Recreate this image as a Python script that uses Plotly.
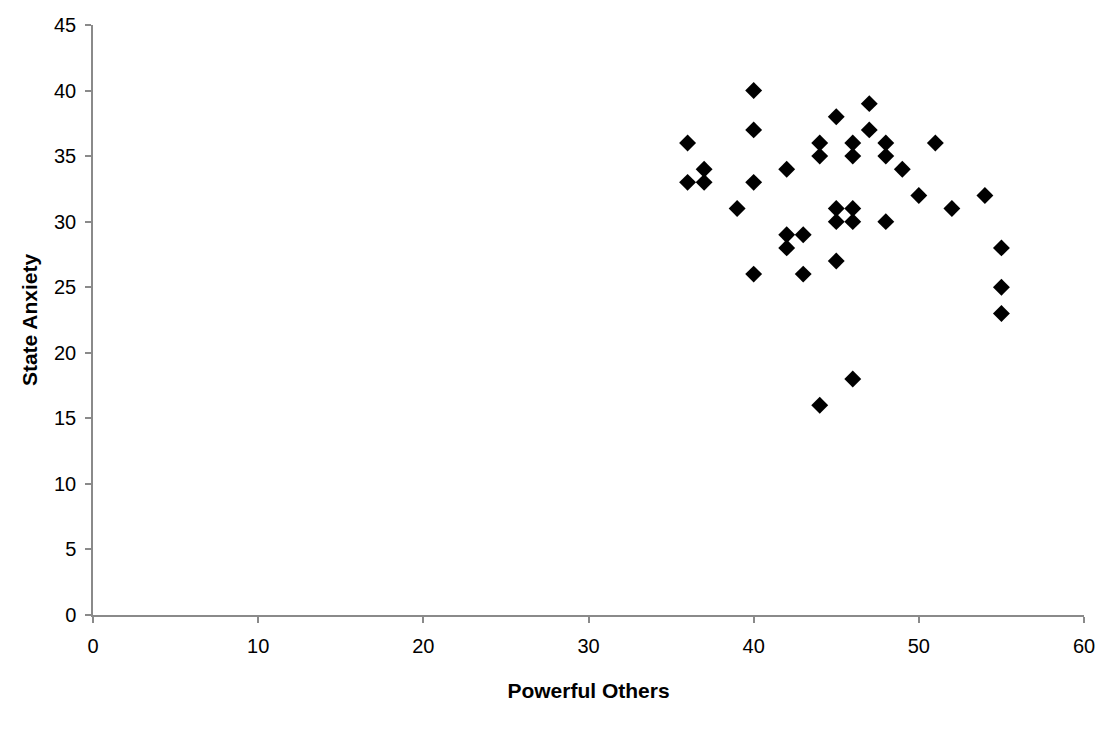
import plotly.graph_objects as go

powerful_others = [36, 36, 37, 37, 39, 40, 40, 40, 40, 42, 42, 42, 43, 43,
                   44, 44, 44, 45, 45, 45, 45, 46, 46, 46, 46, 46, 47, 47,
                   48, 48, 48, 49, 50, 51, 52, 54, 55, 55, 55]
state_anxiety = [36, 33, 34, 33, 31, 40, 37, 33, 26, 34, 29, 28, 29, 26,
                 36, 35, 16, 38, 31, 30, 27, 36, 35, 31, 30, 18, 39, 37,
                 36, 35, 30, 34, 32, 36, 31, 32, 28, 25, 23]

x_ticks = [0, 10, 20, 30, 40, 50, 60]
y_ticks = [0, 5, 10, 15, 20, 25, 30, 35, 40, 45]

FONT = "Liberation Sans, Arial"

fig = go.Figure()
fig.add_trace(go.Scatter(
    x=powerful_others, y=state_anxiety, mode="markers",
    marker=dict(symbol="diamond", size=13, color="black", line=dict(width=0)),
    showlegend=False, cliponaxis=False,
))

axis_common = dict(
    showgrid=False, zeroline=False, showline=True, linecolor="#8a8a8a", linewidth=1.5,
    ticks="outside", ticklen=6, tickcolor="#8a8a8a", tickwidth=1.5,
    tickfont=dict(family=FONT, size=20, color="black"),
    automargin=False,
)

fig.update_layout(
    width=1098, height=734,
    margin=dict(l=93, r=14, t=25, b=119, autoexpand=False),
    paper_bgcolor="white", plot_bgcolor="white",
    xaxis=dict(range=[0, 60], tickvals=x_ticks, ticklabelstandoff=6, **axis_common,
               title=dict(text="<b>Powerful Others</b>", standoff=28,
                          font=dict(family=FONT, size=21, color="black"))),
    yaxis=dict(range=[0, 45], tickvals=y_ticks, ticklabelstandoff=5, **axis_common,
               title=dict(text="<b>State Anxiety</b>", standoff=11,
                          font=dict(family=FONT, size=21, color="black"))),
)

fig.write_html(
    "out.html",
    config={"displayModeBar": False},
    post_script="document.body.style.margin='0';document.body.style.overflow='hidden';",
)
